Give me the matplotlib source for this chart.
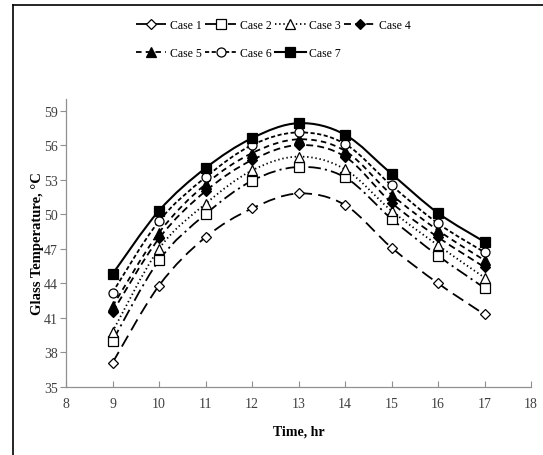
import matplotlib
matplotlib.use("Agg")
import matplotlib.pyplot as plt
from matplotlib.path import Path
from matplotlib.patches import PathPatch
from matplotlib.lines import Line2D

plt.rcParams['font.family'] = ['Liberation Serif', 'DejaVu Serif']
plt.rcParams['lines.scale_dashes'] = False

time_hr = [9, 10, 11, 12, 13, 14, 15, 16, 17]
case1 = [37.1, 43.8, 48.0, 50.5, 51.8, 50.8, 47.1, 44.0, 41.3]
case2 = [39.0, 46.0, 50.0, 52.9, 54.1, 53.2, 49.6, 46.4, 43.6]
case3 = [39.8, 47.0, 50.9, 53.8, 55.0, 53.9, 50.3, 47.3, 44.5]
case4 = [41.5, 47.9, 52.0, 54.7, 56.0, 55.0, 51.0, 48.0, 45.4]
case5 = [42.0, 48.4, 52.6, 55.3, 56.5, 55.5, 51.7, 48.6, 46.0]
case6 = [43.2, 49.4, 53.2, 56.0, 57.1, 56.1, 52.5, 49.2, 46.7]
case7 = [44.8, 50.3, 54.0, 56.6, 57.9, 56.9, 53.5, 50.1, 47.6]
labels = ['Case 1', 'Case 2', 'Case 3', 'Case 4', 'Case 5', 'Case 6', 'Case 7']
y_ticks = [35, 38, 41, 44, 47, 50, 53, 56, 59]
x_ticks = [8, 9, 10, 11, 12, 13, 14, 15, 16, 17, 18]

series = [case1, case2, case3, case4, case5, case6, case7]
# (linestyle, linewidth, marker, markersize, facecolor)
styles = [
    ((0, (9, 4.5)), 1.3, 'D', 5.5, 'white'),
    ((0, (9, 3, 1.5, 3)), 1.3, 's', 6.5, 'white'),
    ((0, (1, 2)), 1.3, '^', 7, 'white'),
    ((0, (5, 3)), 1.3, 'D', 5.5, 'black'),
    ((0, (4, 3)), 1.3, '^', 6.5, 'black'),
    ((0, (3, 1.8)), 1.3, 'o', 6.5, 'white'),
    ('-', 1.5, 's', 7, 'black'),
]


def smooth_path(xs, ys):
    # Excel-like smoothed line: cubic Bezier through the points
    pts = list(zip(xs, ys))
    verts = [pts[0]]
    codes = [Path.MOVETO]
    n = len(pts)
    for i in range(n - 1):
        p0 = pts[i - 1] if i > 0 else pts[i]
        p1 = pts[i]
        p2 = pts[i + 1]
        p3 = pts[i + 2] if i + 2 < n else pts[i + 1]
        c1 = (p1[0] + (p2[0] - p0[0]) / 6, p1[1] + (p2[1] - p0[1]) / 6)
        c2 = (p2[0] - (p3[0] - p1[0]) / 6, p2[1] - (p3[1] - p1[1]) / 6)
        verts += [c1, c2, p2]
        codes += [Path.CURVE4] * 3
    return Path(verts, codes)


fig = plt.figure(figsize=(5.43, 4.56), dpi=100)
ax = fig.add_axes([66 / 543, 68 / 456, 465 / 543, 288 / 456])

handles = []
for ys, (ls, lw, mk, ms, fc) in zip(series, styles):
    patch = PathPatch(smooth_path(time_hr, ys), facecolor='none', edgecolor='black',
                      linewidth=lw, linestyle=ls, capstyle='butt', zorder=2)
    ax.add_patch(patch)
    handles.append(Line2D([], [], color='black', linestyle=ls, linewidth=lw, marker=mk,
                          markersize=ms, markerfacecolor=fc, markeredgecolor='black',
                          markeredgewidth=0.9))

for ys, (ls, lw, mk, ms, fc) in zip(series, styles):
    ax.plot(time_hr, ys, linestyle='none', marker=mk, markersize=ms,
            markerfacecolor=fc, markeredgecolor='black', markeredgewidth=0.9, zorder=3)

ax.set_xlim(8, 18)
ax.set_ylim(35, 60)
ax.set_xticks(x_ticks)
ax.set_yticks(y_ticks)
ax.tick_params(axis='both', labelsize=10, colors='#404040', length=4, width=0.8)
ax.tick_params(axis='x', direction='in', pad=7, color='#909090')
ax.tick_params(axis='y', direction='out', pad=2, color='#909090')
for s in ['top', 'right']:
    ax.spines[s].set_visible(False)
for s in ['left', 'bottom']:
    ax.spines[s].set_color('#909090')
    ax.spines[s].set_linewidth(0.9)

ax.set_xlabel('Time, hr', fontsize=10, fontweight='bold', labelpad=11)
ax.set_ylabel('Glass Temperature, \u00b0C', fontsize=10.5, fontweight='bold')
ax.yaxis.set_label_coords(-0.047, 0.5)

order = [0, 4, 1, 5, 2, 6, 3]
fig.legend([handles[i] for i in order], [labels[i] for i in order], ncol=4,
           loc='center', bbox_to_anchor=(273 / 543, 1 - 40 / 456), frameon=False,
           fontsize=8.5, handlelength=2.6, handletextpad=0.3, columnspacing=0.3,
           labelspacing=1.3, numpoints=1)

# chart area border (left and top edges visible)
fig.add_artist(Line2D([13 / 543, 13 / 543], [0, 1 - 6 / 456], color='black', linewidth=1.2,
                      transform=fig.transFigure))
fig.add_artist(Line2D([13 / 543, 1], [1 - 6 / 456, 1 - 6 / 456], color='black', linewidth=1.2,
                      transform=fig.transFigure))

fig.savefig('out.png', dpi=100)
